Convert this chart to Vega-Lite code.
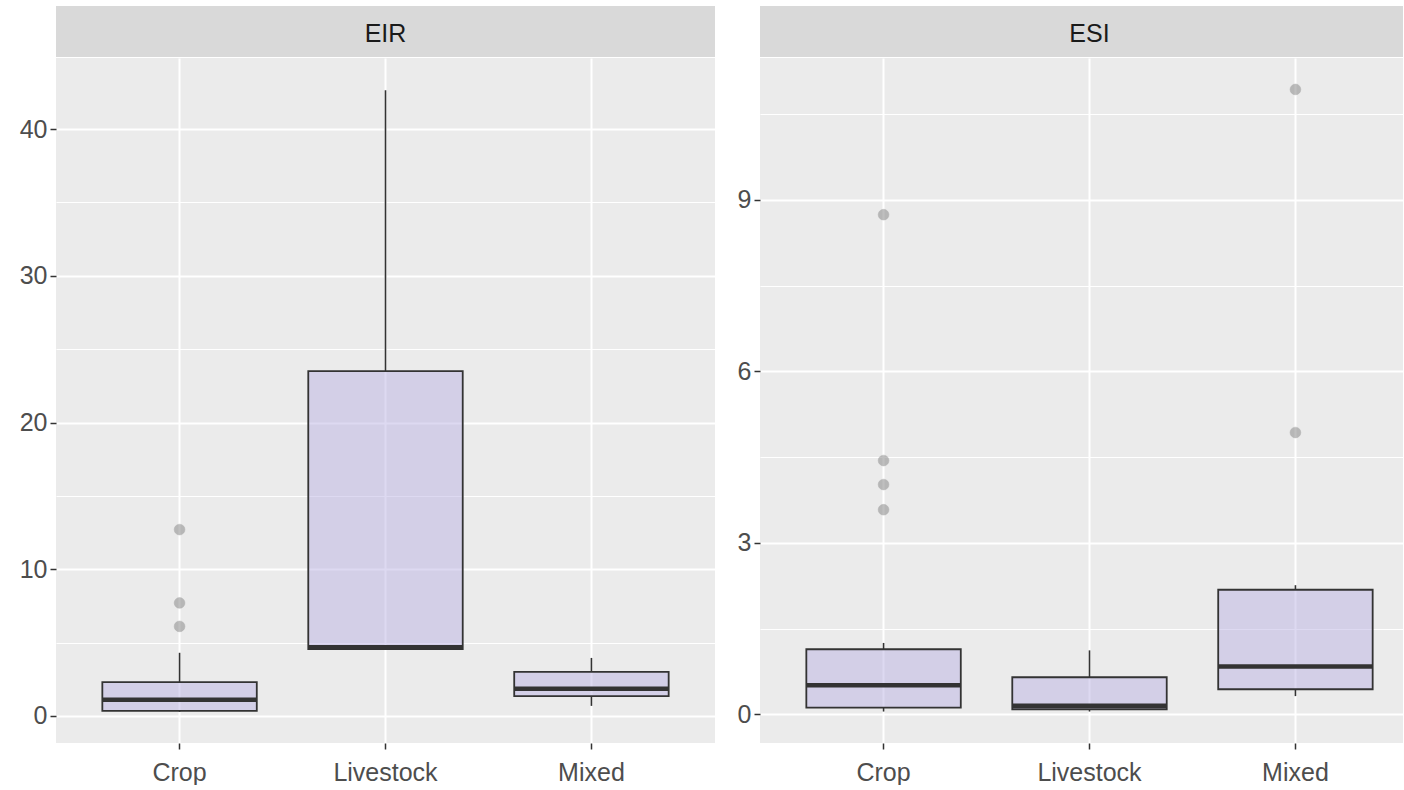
{
  "$schema": "https://vega.github.io/schema/vega-lite/v6.json",
  "padding": {"left": 19, "top": 6, "right": 0, "bottom": 0},
  "background": "white",
  "config": {
    "font": "Liberation Sans",
    "view": {"stroke": null},
    "axis": {
      "domain": false,
      "tickColor": "#333333",
      "tickSize": 6,
      "tickWidth": 1.5,
      "labelColor": "#4D4D4D",
      "labelFontSize": 25,
      "labelFont": "Liberation Sans",
      "gridColor": "#FFFFFF",
      "gridWidth": 2,
      "title": null,
      "labelPadding": 3
    }
  },
  "datasets": {
    "strips": [{"panel": "EIR"}, {"panel": "ESI"}],
    "stats": [
      {"panel": "EIR", "type": "Crop", "lower": 0.28, "q1": 0.34, "median": 1.1, "q3": 2.3, "upper": 4.3},
      {"panel": "EIR", "type": "Livestock", "lower": 4.5, "q1": 4.55, "median": 4.68, "q3": 23.5, "upper": 42.65},
      {"panel": "EIR", "type": "Mixed", "lower": 0.68, "q1": 1.35, "median": 1.85, "q3": 3.0, "upper": 3.95},
      {"panel": "ESI", "type": "Crop", "lower": 0.05, "q1": 0.12, "median": 0.51, "q3": 1.14, "upper": 1.25},
      {"panel": "ESI", "type": "Livestock", "lower": 0.05, "q1": 0.09, "median": 0.15, "q3": 0.65, "upper": 1.12},
      {"panel": "ESI", "type": "Mixed", "lower": 0.32, "q1": 0.44, "median": 0.84, "q3": 2.18, "upper": 2.26}
    ],
    "outliers": [
      {"panel": "EIR", "type": "Crop", "value": 12.7},
      {"panel": "EIR", "type": "Crop", "value": 7.7},
      {"panel": "EIR", "type": "Crop", "value": 6.1},
      {"panel": "ESI", "type": "Crop", "value": 8.74},
      {"panel": "ESI", "type": "Crop", "value": 4.44},
      {"panel": "ESI", "type": "Crop", "value": 4.02},
      {"panel": "ESI", "type": "Crop", "value": 3.58},
      {"panel": "ESI", "type": "Mixed", "value": 4.93},
      {"panel": "ESI", "type": "Mixed", "value": 10.93}
    ]
  },
  "spacing": 22,
  "hconcat": [
    {
      "spacing": 1,
      "vconcat": [
        {
          "width": 659, "height": 51,
          "view": {"fill": "#D9D9D9", "stroke": null},
          "data": {"name": "strips"},
          "transform": [{"filter": "datum.panel === 'EIR'"}],
          "mark": {"type": "text", "fontSize": 25, "color": "#1A1A1A", "font": "Liberation Sans", "dy": 2},
          "encoding": {"text": {"field": "panel"}}
        },
        {
          "width": 659, "height": 685,
          "view": {"fill": "#EBEBEB", "stroke": null},
          "data": {"name": "stats"},
          "transform": [{"filter": "datum.panel === 'EIR'"}],
          "resolve": {"axis": {"y": "independent"}},
          "layer": [
            {
              "mark": {"type": "rule", "color": "#333333", "strokeWidth": 1.6},
              "encoding": {
                "x": {"field": "type", "type": "nominal", "scale": {"type": "band", "paddingInner": 0, "paddingOuter": 0.1}, "axis": {"grid": true, "bandPosition": 0.5, "labelPadding": 11, "labelAngle": 0}},
                "y": {"field": "lower", "type": "quantitative", "scale": {"domain": [-1.85, 44.85], "nice": false, "zero": false}, "axis": {"values": [0, 10, 20, 30, 40], "orient": "left"}},
                "y2": {"field": "q1"}
              }
            },
            {
              "mark": {"type": "rule", "color": "#333333", "strokeWidth": 1.6},
              "encoding": {
                "x": {"field": "type", "type": "nominal"},
                "y": {"field": "q3", "type": "quantitative", "axis": {"values": [5, 15, 25, 35], "orient": "left", "labels": false, "ticks": false, "grid": true, "gridWidth": 1}},
                "y2": {"field": "upper"}
              }
            },
            {
              "mark": {"type": "bar", "width": {"band": 0.75}, "fill": "#BBB3E3", "fillOpacity": 0.5, "stroke": "#333333", "strokeWidth": 1.8},
              "encoding": {
                "x": {"field": "type", "type": "nominal"},
                "y": {"field": "q1", "type": "quantitative", "axis": null},
                "y2": {"field": "q3"}
              }
            },
            {
              "mark": {"type": "tick", "orient": "horizontal", "size": 154, "thickness": 4.5, "color": "#333333", "opacity": 1},
              "encoding": {
                "x": {"field": "type", "type": "nominal"},
                "y": {"field": "median", "type": "quantitative", "axis": null}
              }
            },
            {
              "data": {"name": "outliers"},
              "transform": [{"filter": "datum.panel === 'EIR'"}],
              "mark": {"type": "point", "filled": true, "size": 115, "color": "#8C8C8C", "opacity": 0.55, "stroke": "#7A7A7A", "strokeWidth": 0.8, "strokeOpacity": 0.6},
              "encoding": {
                "x": {"field": "type", "type": "nominal"},
                "y": {"field": "value", "type": "quantitative", "axis": null}
              }
            }
          ]
        }
      ]
    },
    {
      "spacing": 1,
      "vconcat": [
        {
          "width": 643, "height": 51,
          "view": {"fill": "#D9D9D9", "stroke": null},
          "data": {"name": "strips"},
          "transform": [{"filter": "datum.panel === 'ESI'"}],
          "mark": {"type": "text", "fontSize": 25, "color": "#1A1A1A", "font": "Liberation Sans", "dx": 8, "dy": 2},
          "encoding": {"text": {"field": "panel"}}
        },
        {
          "width": 643, "height": 685,
          "view": {"fill": "#EBEBEB", "stroke": null},
          "data": {"name": "stats"},
          "transform": [{"filter": "datum.panel === 'ESI'"}],
          "resolve": {"axis": {"y": "independent"}},
          "layer": [
            {
              "mark": {"type": "rule", "color": "#333333", "strokeWidth": 1.6},
              "encoding": {
                "x": {"field": "type", "type": "nominal", "scale": {"type": "band", "paddingInner": 0, "paddingOuter": 0.1, "range": [0, 659]}, "axis": {"grid": true, "bandPosition": 0.5, "labelPadding": 11, "labelAngle": 0}},
                "y": {"field": "lower", "type": "quantitative", "scale": {"domain": [-0.5, 11.48], "nice": false, "zero": false}, "axis": {"values": [0, 3, 6, 9], "orient": "left"}},
                "y2": {"field": "q1"}
              }
            },
            {
              "mark": {"type": "rule", "color": "#333333", "strokeWidth": 1.6},
              "encoding": {
                "x": {"field": "type", "type": "nominal"},
                "y": {"field": "q3", "type": "quantitative", "axis": {"values": [1.5, 4.5, 7.5, 10.5], "orient": "left", "labels": false, "ticks": false, "grid": true, "gridWidth": 1}},
                "y2": {"field": "upper"}
              }
            },
            {
              "mark": {"type": "bar", "width": {"band": 0.75}, "fill": "#BBB3E3", "fillOpacity": 0.5, "stroke": "#333333", "strokeWidth": 1.8},
              "encoding": {
                "x": {"field": "type", "type": "nominal"},
                "y": {"field": "q1", "type": "quantitative", "axis": null},
                "y2": {"field": "q3"}
              }
            },
            {
              "mark": {"type": "tick", "orient": "horizontal", "size": 154, "thickness": 4.5, "color": "#333333", "opacity": 1},
              "encoding": {
                "x": {"field": "type", "type": "nominal"},
                "y": {"field": "median", "type": "quantitative", "axis": null}
              }
            },
            {
              "data": {"name": "outliers"},
              "transform": [{"filter": "datum.panel === 'ESI'"}],
              "mark": {"type": "point", "filled": true, "size": 115, "color": "#8C8C8C", "opacity": 0.55, "stroke": "#7A7A7A", "strokeWidth": 0.8, "strokeOpacity": 0.6},
              "encoding": {
                "x": {"field": "type", "type": "nominal"},
                "y": {"field": "value", "type": "quantitative", "axis": null}
              }
            }
          ]
        }
      ]
    }
  ]
}
